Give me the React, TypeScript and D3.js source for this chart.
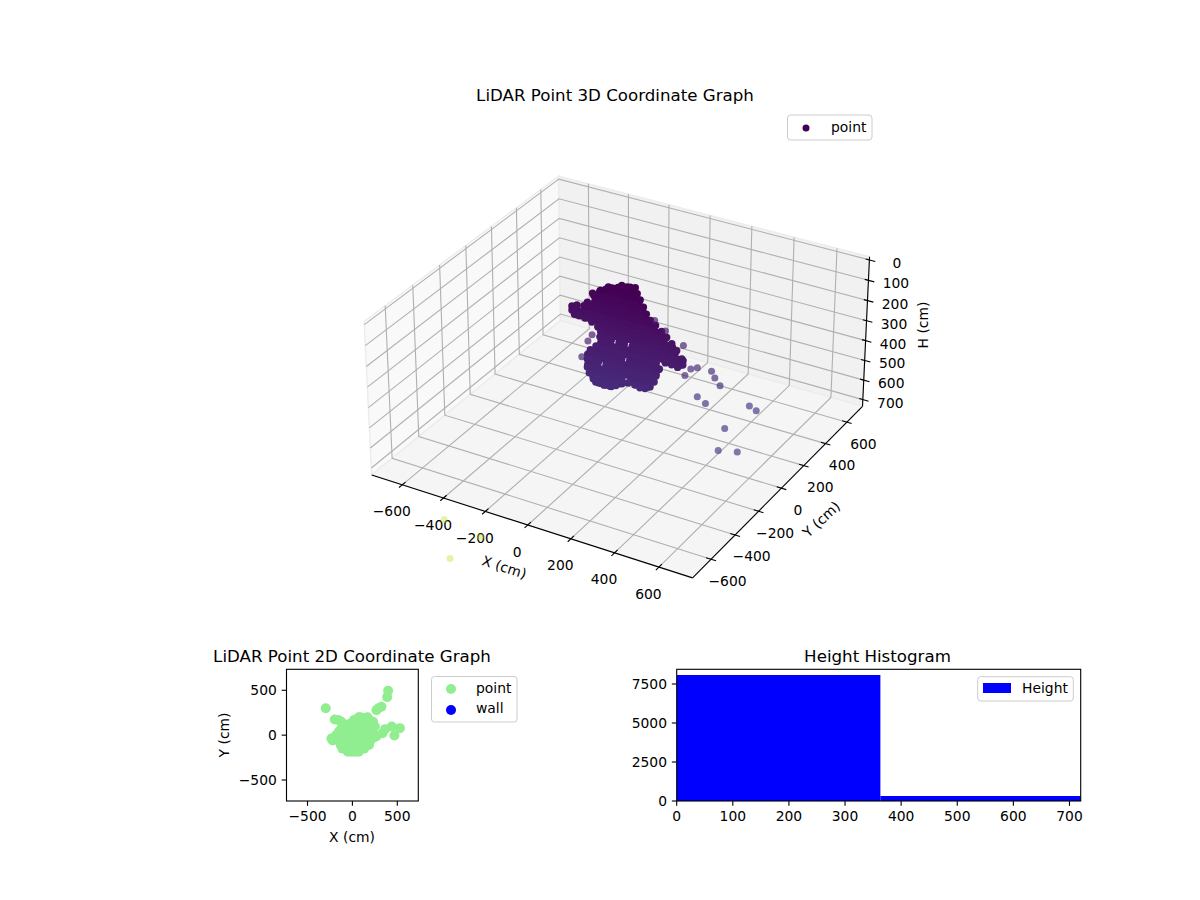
import React from 'react';
import * as d3 from 'd3';

const FONT = '"DejaVu Sans", sans-serif';

// tick labels
const xyTicks3D = [-600, -400, -200, 0, 200, 400, 600];
const hTicks3D = [0, 100, 200, 300, 400, 500, 600, 700];
const ticks2D = [-500, 0, 500];
const histXTicks = [0, 100, 200, 300, 400, 500, 600, 700];
const histYTicks = [0, 2500, 5000, 7500];

// height histogram
const histEdges = [0, 363, 726];
const histCounts = [8077, 320];

// dense part of the cloud: one row per height, x values of that row (y = 0)
const cloudHeights = [-30, -5, 21, 47, 72, 98, 123, 149, 174, 200, 225, 251, 276, 302, 327, 353, 378, 404, 429, 455, 480];
const cloudRows = [
  [0, 25, 50],
  [-63, -38, -13, 12, 37, 62],
  [-100, -75, -50, -25, 0, 25, 50, 75],
  [-138, -113, -88, -63, -38, -13, 12, 37, 62, 87],
  [-125, -100, -75, -50, -25, 0, 25, 50, 75, 100],
  [-163, -138, -113, -88, -63, -38, -13, 12, 37, 62, 87, 112],
  [-175, -150, -125, -100, -75, -50, -25, 0, 25, 50, 75, 100, 125, 150],
  [-213, -188, -163, -138, -113, -88, -63, -38, -13, 12, 37, 62, 87, 112, 137, 162, 187],
  [-225, -200, -175, -150, -125, -100, -75, -50, -25, 0, 25, 50, 75, 100, 125, 150, 175, 200],
  [-113, -88, -63, -38, -13, 12, 37, 62, 87, 112, 137, 162, 187, 212, 237],
  [-100, -75, -50, -25, 0, 25, 50, 75, 100, 125, 150, 175, 200, 225, 250],
  [-88, -63, -50, -13, 12, 49, 62, 87, 112, 137, 162, 187, 212, 237, 262, 287],
  [-100, -75, -50, -25, 0, 25, 50, 75, 100, 125, 150, 175, 200, 225, 250, 275],
  [-113, -88, -63, -38, -13, 12, 37, 62, 87, 112, 137, 162],
  [-150, -125, -100, -75, -50, -25, 0, 37, 50, 75, 100, 125, 150, 175],
  [-163, -138, -113, -88, -63, -38, -13, 12, 37, 62, 87, 112, 137, 162],
  [-150, -125, -112, -75, -50, -25, 0, 25, 50, 75, 100, 125, 150],
  [-163, -138, -113, -88, -63, -38, -13, 12, 37, 62, 87, 112, 137],
  [-150, -125, -100, -75, -50, -25, 0, 50, 75, 100, 125],
  [-138, -113, -88, -63, -38, -13],
  [-125, -100, -75, -50],
];

// outline of the cloud: x, h (y = 0)
const cloudOutline = [
  [-132, 56], [-104, 28], [-75, 10], [-47, -4], [-18, -15], [10, -23], [39, -32], [63, -37],
  [72, -10], [86, 16], [101, 46], [115, 76], [134, 100], [158, 118], [186, 139], [210, 161],
  [234, 184], [257, 211], [281, 244], [286, 272], [262, 291], [234, 287], [205, 286], [177, 324],
  [162, 363], [153, 396], [134, 426], [110, 441], [86, 445], [63, 438], [29, 438], [1, 451],
  [-28, 469], [-56, 481], [-85, 484], [-113, 481], [-137, 468], [-156, 444], [-165, 417], [-165, 378],
  [-151, 338], [-123, 301], [-104, 250], [-113, 204], [-142, 188], [-175, 178], [-208, 173], [-237, 157],
  [-237, 137], [-213, 125], [-180, 120], [-151, 116],
];

// loose returns around the cloud: x, y, h
const loosePoints = [
  [224, 366, 513], [263, 323, 513], [312, 278, 513], [196, 295, 613], [252, 264, 613],
  [385, 408, 663], [428, 388, 663], [381, 196, 663], [404, 98, 713], [478, 127, 713],
  [197, 290, 463], [179, 266, 463], [184, 206, 463], [177, 203, 313], [95, 196, 263],
  [54, 178, 213], [-184, 38, 313], [-152, 18, 263], [-182, -16, 363],
];

// faint returns far outside the axes limits
const farPoints = [
  [-282, -925, 700], [-88, -961, 700], [-110, -1148, 700],
];
const farColorValue = 0.9;

// top view of the same cloud
const isolated2D = [
  [-297, 300], [398, 495], [387, 424], [268, 279], [323, 316], [290, 300],
  [528, 78], [439, 97], [468, -4], [335, 22], [364, 67],
  [-197, 175], [-160, 170], [-125, 150], [-90, 110],
  [-234, -37], [-190, -45], [-150, -60], [-180, 0], [-150, 40], [-120, 80],
  [250, -20], [270, -10], [250, 97], [230, 150], [138, 190], [-60, 120], [-220, -60],
];
const massY2D = [-185, -150, -110, -70, -30, 10, 50, 90, 130, 170, 200];
const massX2D = [
  [-50, -10, 30, 70],
  [-110, -70, -30, 10, 50, 90, 130],
  [-130, -90, -50, -10, 30, 70, 110, 150, 185],
  [-130, -90, -50, -10, 30, 70, 110, 150, 195],
  [-130, -90, -50, -10, 30, 70, 110, 150, 190, 230],
  [-110, -70, -30, 10, 50, 90, 130, 170, 210, 235],
  [-90, -50, -10, 30, 70, 110, 150, 190, 220],
  [-60, -20, 20, 60, 100, 140, 190],
  [-20, 20, 60, 100, 140, 180],
  [20, 60, 100, 180],
  [70, 90, 170],
];

// ---- mplot3d style camera (elev 30, azim -60, dist 10)
const PANE = 750; // x/y pane limits
const H_TOP = -15;
const H_BOTTOM = 735;
const aspect = [1, 1, 0.48];
const aspectNorm = Math.hypot(aspect[0], aspect[1], aspect[2]);
const box = aspect.map(a => (a * 1.8294640721620434) / aspectNorm);
const dist = 10;
const U = [0.8660254, 0.5, 0];
const V = [-0.25, 0.4330127, 0.8660254];
const W = [0.4330127, -0.75, 0.5];

const wx = d3.scaleLinear().domain([-PANE, PANE]).range([-box[0] / 2, box[0] / 2]);
const wy = d3.scaleLinear().domain([-PANE, PANE]).range([-box[1] / 2, box[1] / 2]);
const wz = d3.scaleLinear().domain([H_BOTTOM, H_TOP]).range([-box[2] / 2, box[2] / 2]);
const screenX = d3.scaleLinear().domain([0, 1]).range([621.8, 621.8 + 2975]);
const screenY = d3.scaleLinear().domain([0, 1]).range([365.4, 365.4 - 2975]);

const dot = (a: number[], b: number[]) => a[0] * b[0] + a[1] * b[1] + a[2] * b[2];

function project(x: number, y: number, h: number): [number, number] {
  const p = [wx(x), wy(y), wz(h)];
  const d = dist - dot(p, W);
  return [screenX(dot(p, U) / d), screenY(dot(p, V) / d)];
}

const colorOf = (h: number) => d3.interpolateViridis(Math.max(0, h) / 4000);

function path3D(pts: number[][]) {
  return d3.line()(pts.map(p => project(p[0], p[1], p[2]))) as string;
}

function Pane({ pts, fill }: { pts: number[][]; fill: string }) {
  return <path d={path3D(pts) + 'Z'} fill={fill} stroke="#ececec" strokeWidth={1.4} />;
}

function Legend3D() {
  return (
    <g fontFamily={FONT} fontSize={13.89}>
      <rect x={787.5} y={115} width={84.5} height={25} rx={3} fill="white" stroke="#cccccc" />
      <circle cx={806} cy={128} r={3.5} fill="#440154" />
      <text x={831} y={132} fill="black">point</text>
    </g>
  );
}

function Chart3D() {
  const L = PANE;
  const gridColor = '#b0b0b0';
  const lw = 1.11;
  const cloud = cloudRows
    .flatMap((xs, i) => xs.map(x => [x, 0, cloudHeights[i]]))
    .concat(cloudOutline.map(p => [p[0], 0, p[1]]));

  return (
    <g fontFamily={FONT} fontSize={13.89} fill="black">
      <text x={615} y={101} fontSize={16.67} textAnchor="middle">LiDAR Point 3D Coordinate Graph</text>

      <Pane pts={[[-L, -L, H_TOP], [-L, L, H_TOP], [-L, L, H_BOTTOM], [-L, -L, H_BOTTOM]]} fill="#f9f9f9" />
      <Pane pts={[[-L, L, H_TOP], [L, L, H_TOP], [L, L, H_BOTTOM], [-L, L, H_BOTTOM]]} fill="#f1f1f1" />
      <Pane pts={[[-L, -L, H_BOTTOM], [L, -L, H_BOTTOM], [L, L, H_BOTTOM], [-L, L, H_BOTTOM]]} fill="#f5f5f5" />

      <g fill="none" stroke={gridColor} strokeWidth={lw}>
        {xyTicks3D.map(t => (
          <path key={'gx' + t} d={path3D([[t, -L, H_BOTTOM], [t, L, H_BOTTOM], [t, L, H_TOP]])} />
        ))}
        {xyTicks3D.map(t => (
          <path key={'gy' + t} d={path3D([[L, t, H_BOTTOM], [-L, t, H_BOTTOM], [-L, t, H_TOP]])} />
        ))}
        {hTicks3D.map(t => (
          <path key={'gh' + t} d={path3D([[-L, -L, t], [-L, L, t], [L, L, t]])} />
        ))}
      </g>

      <g fill="none" stroke="black" strokeWidth={lw}>
        <path d={path3D([[-L, -L, H_BOTTOM], [L, -L, H_BOTTOM]])} />
        <path d={path3D([[L, -L, H_BOTTOM], [L, L, H_BOTTOM]])} />
        <path d={path3D([[L, L, H_BOTTOM], [L, L, H_TOP]])} />
        {xyTicks3D.map(t => (
          <path key={'tx' + t} d={path3D([[t, -L - 24, H_BOTTOM], [t, -L + 24, H_BOTTOM]])} />
        ))}
        {xyTicks3D.map(t => (
          <path key={'ty' + t} d={path3D([[L + 22, t, H_BOTTOM], [L - 22, t, H_BOTTOM]])} />
        ))}
        {hTicks3D.map(t => (
          <path key={'th' + t} d={path3D([[L + 27, L, t], [L - 17, L, t]])} />
        ))}
      </g>

      {xyTicks3D.map(t => {
        const [px, py] = project(t, -L, H_BOTTOM);
        return (
          <text key={'lx' + t} x={px - 10.5} y={py + 31.5} textAnchor="middle">
            {String(t).replace('-', '−')}
          </text>
        );
      })}
      {xyTicks3D.map(t => {
        const [px, py] = project(L, t, H_BOTTOM);
        return (
          <text key={'ly' + t} x={px + 16.5} y={py + 26.5} textAnchor="middle">
            {String(t).replace('-', '−')}
          </text>
        );
      })}
      {hTicks3D.map(t => {
        const [px, py] = project(L, L, t);
        return (
          <text key={'lh' + t} x={px + 27.5} y={py + 8} textAnchor="middle">
            {t}
          </text>
        );
      })}
      <text transform="translate(504,568) rotate(18)" textAnchor="middle" dominantBaseline="middle">X (cm)</text>
      <text transform="translate(822,520) rotate(-43)" textAnchor="middle" dominantBaseline="middle">Y (cm)</text>
      <text transform="translate(924,325) rotate(-90)" textAnchor="middle" dominantBaseline="middle">H (cm)</text>

      {cloud.map((p, i) => {
        const [cx, cy] = project(p[0], p[1], p[2]);
        return <circle key={'c' + i} cx={cx} cy={cy} r={3.7} fill={colorOf(p[2])} />;
      })}
      {loosePoints.map((p, i) => {
        const [cx, cy] = project(p[0], p[1], p[2]);
        return <circle key={'l' + i} cx={cx} cy={cy} r={3.5} fill={colorOf(p[2])} fillOpacity={0.68} />;
      })}
      {farPoints.map((p, i) => {
        const [cx, cy] = project(p[0], p[1], p[2]);
        return <circle key={'f' + i} cx={cx} cy={cy} r={3.5} fill={d3.interpolateViridis(farColorValue)} fillOpacity={0.4} />;
      })}
      <Legend3D />
    </g>
  );
}

function Chart2D() {
  const left = 286.5;
  const right = 418.3;
  const top = 669.3;
  const bottom = 801;
  const x = d3.scaleLinear().domain([-734, 734]).range([left, right]);
  const y = d3.scaleLinear().domain([-734, 734]).range([bottom, top]);
  const points = isolated2D.concat(massX2D.flatMap((xs, i) => xs.map(v => [v, massY2D[i]])));

  return (
    <g fontFamily={FONT} fontSize={13.89} fill="black">
      <text x={352} y={662} fontSize={16.67} textAnchor="middle">LiDAR Point 2D Coordinate Graph</text>
      <clipPath id="clip2d"><rect x={left} y={top} width={right - left} height={bottom - top} /></clipPath>
      <g clipPath="url(#clip2d)">
        {points.map((p, i) => <circle key={i} cx={x(p[0])} cy={y(p[1])} r={5} fill="#90ee90" />)}
      </g>
      <rect x={left} y={top} width={right - left} height={bottom - top} fill="none" stroke="black" strokeWidth={1.11} />
      {ticks2D.map(t => (
        <g key={'x' + t}>
          <line x1={x(t)} x2={x(t)} y1={bottom} y2={bottom + 4.86} stroke="black" strokeWidth={1.11} />
          <text x={x(t)} y={bottom + 19.5} textAnchor="middle">{String(t).replace('-', '−')}</text>
        </g>
      ))}
      {ticks2D.map(t => (
        <g key={'y' + t}>
          <line x1={left - 4.86} x2={left} y1={y(t)} y2={y(t)} stroke="black" strokeWidth={1.11} />
          <text x={left - 9.7} y={y(t) + 5} textAnchor="end">{String(t).replace('-', '−')}</text>
        </g>
      ))}
      <text x={352} y={842} textAnchor="middle">X (cm)</text>
      <text transform="translate(225,735) rotate(-90)" textAnchor="middle" dominantBaseline="middle">Y (cm)</text>

      <rect x={431.5} y={676.5} width={85.5} height={45.5} rx={3} fill="white" stroke="#cccccc" />
      <circle cx={451} cy={689} r={5} fill="#90ee90" />
      <text x={476} y={693}>point</text>
      <circle cx={451} cy={710} r={5} fill="#0000ff" />
      <text x={476} y={713}>wall</text>
    </g>
  );
}

function Histogram() {
  const left = 676.7;
  const right = 1080.7;
  const top = 669.3;
  const bottom = 801;
  const x = d3.scaleLinear().domain([0, 720]).range([left, right]);
  const y = d3.scaleLinear().domain([0, 8442]).range([bottom, top]);

  return (
    <g fontFamily={FONT} fontSize={13.89} fill="black">
      <text x={877.5} y={662} fontSize={16.67} textAnchor="middle">Height Histogram</text>
      <clipPath id="cliphist"><rect x={left} y={top} width={right - left} height={bottom - top} /></clipPath>
      <g clipPath="url(#cliphist)">
        {histCounts.map((c, i) => (
          <rect key={i} x={x(histEdges[i])} y={y(c)} width={x(histEdges[i + 1]) - x(histEdges[i])} height={bottom - y(c)} fill="#0000ff" />
        ))}
      </g>
      <rect x={left} y={top} width={right - left} height={bottom - top} fill="none" stroke="black" strokeWidth={1.11} />
      {histXTicks.map(t => (
        <g key={'x' + t}>
          <line x1={x(t)} x2={x(t)} y1={bottom} y2={bottom + 4.86} stroke="black" strokeWidth={1.11} />
          <text x={x(t)} y={bottom + 19.5} textAnchor="middle">{t}</text>
        </g>
      ))}
      {histYTicks.map(t => (
        <g key={'y' + t}>
          <line x1={left - 4.86} x2={left} y1={y(t)} y2={y(t)} stroke="black" strokeWidth={1.11} />
          <text x={left - 9.7} y={y(t) + 5} textAnchor="end">{t}</text>
        </g>
      ))}
      <rect x={977.7} y={676.7} width={95.6} height={24.3} rx={3} fill="white" stroke="#cccccc" />
      <rect x={983} y={683} width={28} height={10} fill="#0000ff" />
      <text x={1022} y={693}>Height</text>
    </g>
  );
}

export default function App() {
  return (
    <svg width={1200} height={900} style={{ position: 'absolute', left: 0, top: 0, background: 'white' }}>
      <Chart3D />
      <Chart2D />
      <Histogram />
    </svg>
  );
}
